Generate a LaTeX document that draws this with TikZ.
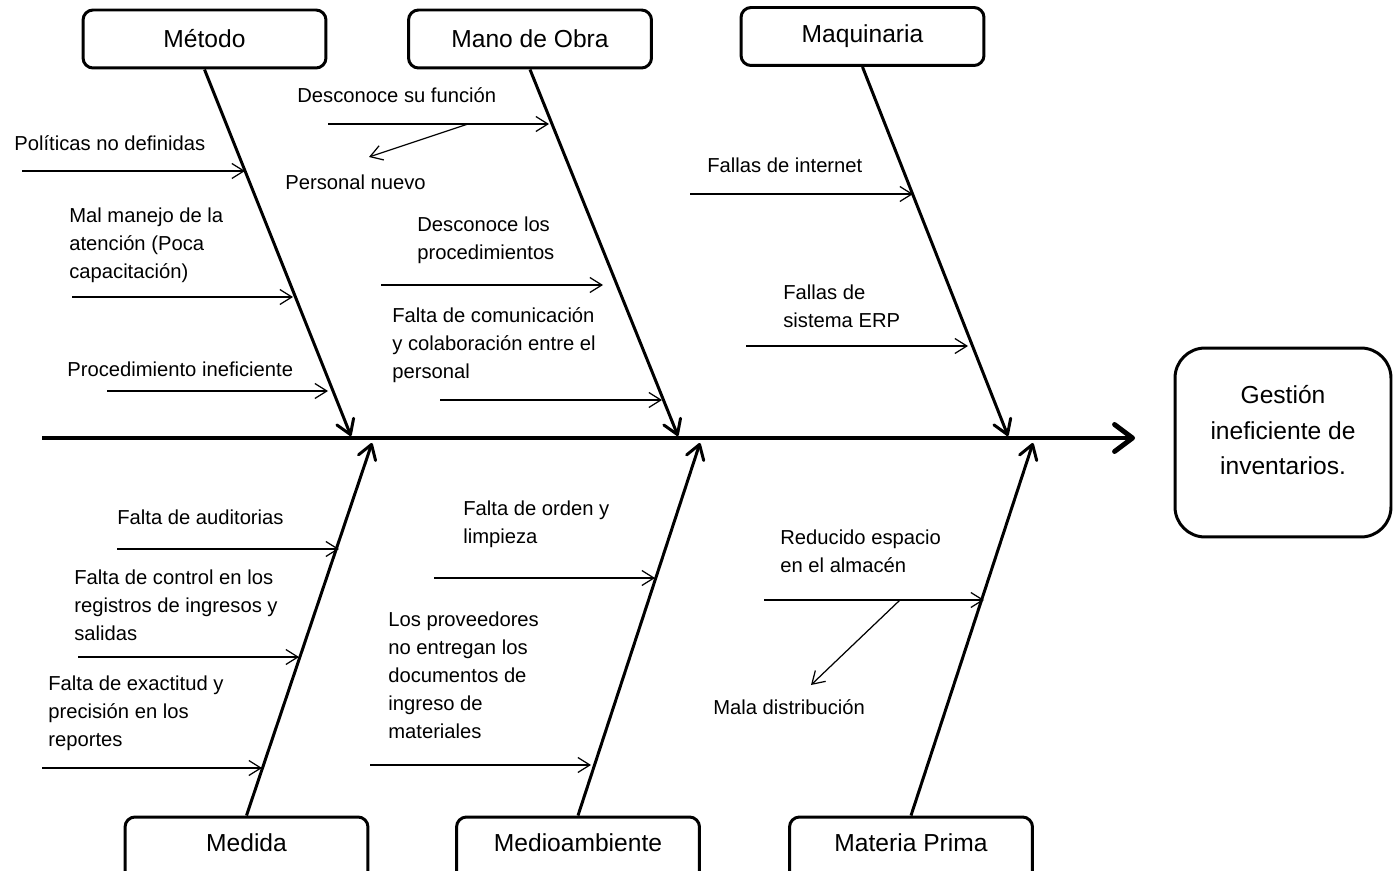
\documentclass[tikz,border=0pt]{standalone}
\usepackage{fontspec}
\setmainfont{Liberation Sans}
\usetikzlibrary{arrows.meta}

\tikzset{
  categoria/.style={draw, line width=1.7pt, rounded corners=0.2cm, minimum width=4.86cm, minimum height=1.16cm, inner sep=0pt, font=\fontsize{14}{17}\selectfont},
  catabajo/.style={categoria, minimum height=1.36cm, text depth=0.32cm},
  efecto/.style={draw, line width=1.7pt, rounded corners=0.6cm, minimum width=4.32cm, minimum height=3.78cm, align=center, text depth=0.5cm, font=\fontsize{14}{20.2}\selectfont},
  espina/.style={line width=2.8pt, -{Straight Barb[length=3.6mm, width=5.4mm, round]}},
  hueso/.style={line width=1.7pt, -{Straight Barb[length=2.8mm, width=3.6mm, round]}},
  causa/.style={line width=0.7pt, -{Straight Barb[length=2.4mm, width=3mm]}},
  texto/.style={anchor=west, inner sep=0pt, align=left, font=\fontsize{11.5}{15.9}\selectfont}
}

\begin{document}
\begin{tikzpicture}[x=0.02cm, y=-0.02cm]
\useasboundingbox (0,0) rectangle (1393,871);
%% categorias
\node (metodo) [categoria] at (204.5,39) {Método};
\node (manoobra) [categoria] at (530,39) {Mano de Obra};
\node (maquinaria) [categoria] at (862.5,36.5) {Maquinaria};
\node (medida) [catabajo] at (246.5,851) {Medida};
\node (medioamb) [catabajo] at (578,851) {Medioambiente};
\node (materia) [catabajo] at (911,851) {Materia Prima};
\node (efecto) [efecto] at (1283,442.5) {Gestión\\ineficiente de\\inventarios.};
%% espina
\coordinate (cola) at (42,438);
\coordinate (punta) at (1135,438);
\draw [espina] (cola) -- (punta);
%% huesos
\foreach \cat/\x/\y in {metodo/351/436, manoobra/678/436, maquinaria/1008/436}
  \draw [hueso] (\cat.south) -- (\x,\y) coordinate (b\cat);
\foreach \cat/\x/\y in {medida/372/443, medioamb/700/443, materia/1033/443}
  \draw [hueso] (\cat.north) -- (\x,\y) coordinate (b\cat);
%% causas
\foreach \n/\xa/\xb/\y in {1/22/245/171, 2/72/293/297, 3/107/328/391,
    4/328/549/124, 6/381/603/285, 7/440/662/400,
    8/690/913/194, 9/746/968/346,
    10/117/339/549, 11/78/299/657, 12/42/262/768,
    13/434/655/578, 14/370/591/765, 15/764/984/600} {
  \coordinate (s\n) at (\xa,\y);
  \coordinate (e\n) at (\xb,\y);
  \draw [causa] (s\n) -- (e\n);
}
%% subcausas
\coordinate (d4) at (468,124);
\coordinate (t5) at (369,157);
\draw [causa] (d4) -- (t5);
\coordinate (d15) at (900,600);
\coordinate (t16) at (811,685);
\draw [causa] (d15) -- (t16);
%% textos
\node (c1) [texto] at (14,143) {Políticas no definidas};
\node (c2) [texto] at (69,245.5) {Mal manejo de la\\atención (Poca\\capacitación)};
\node (c3) [texto] at (67,369) {Procedimiento ineficiente};
\node (c4) [texto] at (297,95) {Desconoce su función};
\node (c5) [texto] at (285,182) {Personal nuevo};
\node (c6) [texto] at (417,240) {Desconoce los\\procedimientos};
\node (c7) [texto] at (392,345.5) {Falta de comunicación\\y colaboración entre el\\personal};
\node (c8) [texto] at (707,165) {Fallas de internet};
\node (c9) [texto] at (783,306.5) {Fallas de\\sistema ERP};
\node (c10) [texto] at (117,517) {Falta de auditorias};
\node (c11) [texto] at (74,605) {Falta de control en los\\registros de ingresos y\\salidas};
\node (c12) [texto] at (48,713.5) {Falta de exactitud y\\precisión en los\\reportes};
\node (c13) [texto] at (463,524) {Falta de orden y\\limpieza};
\node (c14) [texto] at (388,675.5) {Los proveedores\\no entregan los\\documentos de\\ingreso de\\materiales};
\node (c15) [texto] at (780,551) {Reducido espacio\\en el almacén};
\node (c16) [texto] at (713,707) {Mala distribución};
\end{tikzpicture}
\end{document}
